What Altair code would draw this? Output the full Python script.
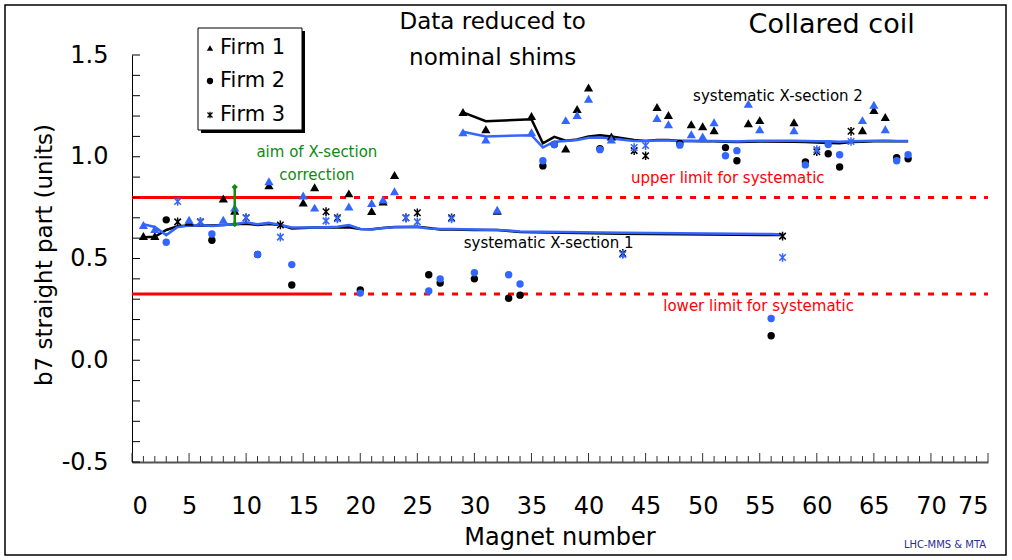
import altair as alt
import pandas as pd

# ---- measurements per magnet -------------------------------------------
magnet = list(range(1, 69))
firm = [1, 1, 2, 3, 1, 3, 2, 1, 1, 3, 2, 1, 3, 2, 1, 1, 3, 3, 1, 2,
        1, 1, 1, 3, 3, 2, 2, 3, 1, 2, 1, 1, 2, 2, 1, 2, 2, 1, 1, 1,
        2, 1, 3, 3, 3, 1, 1, 2, 1, 1, 1, 2, 2, 1, 1, 2, 3, 1, 2, 3,
        2, 2, 3, 1, 1, 1, 2, 2]
# b7 as measured (black)
b7_measured = [0.61, 0.61, 0.69, 0.68, 0.68, 0.68, 0.59, 0.795, 0.735, 0.70,
               0.52, 0.86, 0.665, 0.37, 0.775, 0.85, 0.73, 0.70, 0.82, 0.345,
               0.733, 0.78, 0.91, 0.70, 0.725, 0.42, 0.38, 0.70, 1.22, 0.40,
               1.135, 0.735, 0.305, 0.32, 1.20, 0.955, 1.06, 1.04, 1.235, 1.34,
               1.04, 1.10, 0.525, 1.03, 1.005, 1.245, 1.205, 1.065, 1.16, 1.15,
               1.13, 1.045, 0.98, 1.165, 1.18, 0.12, 0.61, 1.17, 0.975, 1.025,
               1.015, 0.95, 1.125, 1.13, 1.23, 1.195, 0.995, 0.99]
# b7 reduced to nominal shims (blue)
b7_nominal = [0.665, 0.645, 0.58, 0.78, 0.69, 0.68, 0.62, 0.69, 0.75, 0.70,
              0.52, 0.88, 0.605, 0.47, 0.81, 0.75, 0.685, 0.695, 0.755, 0.33,
              0.773, 0.79, 0.83, 0.70, 0.68, 0.34, 0.40, 0.695, 1.12, 0.43,
              1.085, 0.74, 0.42, 0.375, 1.12, 0.98, 1.06, 1.18, 1.205, 1.285,
              1.035, 1.085, 0.52, 1.045, 1.055, 1.19, 1.16, 1.057, 1.11, 1.10,
              1.17, 1.005, 1.03, 1.26, 1.135, 0.205, 0.505, 1.13, 0.96, 1.035,
              1.06, 1.01, 1.075, 1.18, 1.255, 1.135, 0.98, 1.01]

# ---- running systematic per cross-section ------------------------------
sec1_x = list(range(1, 29)) + [30, 32, 33, 34, 43, 56, 57]
sec1_measured = [0.605, 0.607, 0.640, 0.658, 0.662, 0.664, 0.662, 0.665, 0.668, 0.671,
                 0.665, 0.670, 0.665, 0.648, 0.650, 0.652, 0.652, 0.652, 0.654, 0.645,
                 0.644, 0.650, 0.655, 0.655, 0.656, 0.650, 0.642, 0.642, 0.640, 0.640,
                 0.635, 0.630, 0.622, 0.615, 0.615]
sec1_nominal = [0.668, 0.655, 0.615, 0.655, 0.662, 0.664, 0.660, 0.665, 0.668, 0.678,
                0.668, 0.675, 0.665, 0.652, 0.652, 0.652, 0.654, 0.656, 0.664, 0.645,
                0.642, 0.650, 0.654, 0.655, 0.655, 0.648, 0.645, 0.645, 0.642, 0.640,
                0.637, 0.633, 0.626, 0.620, 0.618]
sec2_x = [29, 31] + list(range(35, 43)) + list(range(44, 56)) + list(range(58, 69))
sec2_measured = [1.218, 1.175, 1.184, 1.066, 1.098, 1.079, 1.085, 1.100, 1.106, 1.100,
                 1.082, 1.077, 1.082, 1.082, 1.078, 1.078, 1.076, 1.076, 1.074, 1.072,
                 1.074, 1.075, 1.074, 1.072, 1.070, 1.068, 1.066, 1.072, 1.074, 1.076,
                 1.077, 1.076, 1.076]
sec2_nominal = [1.123, 1.100, 1.106, 1.046, 1.074, 1.077, 1.082, 1.093, 1.095, 1.090,
                1.077, 1.077, 1.080, 1.080, 1.078, 1.078, 1.077, 1.078, 1.076, 1.075,
                1.078, 1.079, 1.079, 1.077, 1.076, 1.076, 1.074, 1.076, 1.077, 1.079,
                1.079, 1.078, 1.078]

# ---- limits and aim ----------------------------------------------------
upper_limit = 0.80
lower_limit = 0.325
limit_solid_end = 17
x_max = 75
aim_x = 9
aim_low, aim_high = 0.669, 0.851

x_ticks = list(range(0, 76, 5))
y_ticks = [-0.5, 0.0, 0.5, 1.0, 1.5]

W, H = 856, 407
FONT = "DejaVu Sans"
BLUE = "#3366ff"
GREEN = "#108a10"
RED = "#ff0000"
ASTERISK = "M-0.75,-0.75L0.75,0.75M-0.75,0.75L0.75,-0.75M0,-1L0,1"

xs = alt.Scale(domain=[0, 75], nice=False, zero=False)
ys = alt.Scale(domain=[-0.5, 1.5], nice=False, zero=False)

pts = pd.DataFrame({"magnet": magnet, "firm": firm,
                    "measured": b7_measured, "nominal": b7_nominal})
lines = pd.concat([
    pd.DataFrame({"magnet": sec1_x, "measured": sec1_measured,
                  "nominal": sec1_nominal, "section": "1"}),
    pd.DataFrame({"magnet": sec2_x, "measured": sec2_measured,
                  "nominal": sec2_nominal, "section": "2"}),
])

X = alt.X("magnet:Q", scale=xs,
          axis=alt.Axis(values=x_ticks, title=None, ticks=False,
                        grid=False, domainColor="#555555", domainWidth=2,
                        labelFont=FONT, labelFontSize=24, labelColor="black",
                        labelPadding=32))

def yenc(field):
    return alt.Y(f"{field}:Q", scale=ys,
                 axis=alt.Axis(values=y_ticks, title=None, ticks=False,
                               labelExpr="datum.value < 0 ? '-' + format(-datum.value, '.1f') : format(datum.value, '.1f')",
                               grid=False, domainColor="black", domainWidth=1,
                               labelFont=FONT, labelFontSize=24, labelColor="black",
                               labelPadding=24))

base_line = alt.Chart(lines)
line_measured = base_line.mark_line(color="black", strokeWidth=2.5).encode(
    x=X, y=yenc("measured"), detail="section:N")
line_nominal = base_line.mark_line(color=BLUE, strokeWidth=2.5).encode(
    x=X, y=yenc("nominal"), detail="section:N")

shape_scale = alt.Scale(domain=[1, 2], range=["triangle-up", "circle"])
size_scale = alt.Scale(domain=[1, 2], range=[85, 55])
filled = alt.Chart(pts).transform_filter("datum.firm < 3")
star = alt.Chart(pts).transform_filter("datum.firm == 3")

def filled_points(field, colour):
    return filled.mark_point(filled=True, opacity=1, color=colour).encode(
        x=X, y=yenc(field),
        shape=alt.Shape("firm:O", scale=shape_scale, legend=None),
        size=alt.Size("firm:O", scale=size_scale, legend=None))

def star_points(field, colour):
    return star.mark_point(shape=ASTERISK, size=75, strokeWidth=1.5,
                           color=colour, opacity=1).encode(x=X, y=yenc(field))

pts_measured = filled_points("measured", "black")
star_measured = star_points("measured", "black")
pts_nominal = filled_points("nominal", BLUE)
star_nominal = star_points("nominal", BLUE)

# limit lines: solid over the first magnets, dotted beyond
limits = pd.DataFrame({
    "x": [0, limit_solid_end, 0, limit_solid_end],
    "x2": [limit_solid_end, x_max, limit_solid_end, x_max],
    "y": [upper_limit, upper_limit, lower_limit, lower_limit],
    "style": ["solid", "dotted", "solid", "dotted"],
})
lim_solid = alt.Chart(limits).transform_filter("datum.style == 'solid'").mark_rule(
    color=RED, strokeWidth=3).encode(x=alt.X("x:Q", scale=xs), x2="x2:Q",
                                     y=alt.Y("y:Q", scale=ys))
lim_dot = alt.Chart(limits).transform_filter("datum.style == 'dotted'").mark_rule(
    color=RED, strokeWidth=3, strokeDash=[6, 8]).encode(
    x=alt.X("x:Q", scale=xs), x2="x2:Q", y=alt.Y("y:Q", scale=ys))

aim = pd.DataFrame({"x": [aim_x], "lo": [aim_low], "hi": [aim_high]})
aim_bar = alt.Chart(aim).mark_rule(color=GREEN, strokeWidth=2.5).encode(
    x=alt.X("x:Q", scale=xs), y=alt.Y("lo:Q", scale=ys), y2="hi:Q")
aim_ends = alt.Chart(pd.DataFrame({"x": [aim_x, aim_x], "y": [aim_low, aim_high]})).mark_point(
    shape="diamond", filled=True, size=40, color=GREEN, opacity=1).encode(
    x=alt.X("x:Q", scale=xs), y=alt.Y("y:Q", scale=ys))

# ---- annotations -------------------------------------------------------
ann_text = ["Data reduced to", "nominal shims", "Collared coil",
            "aim of X-section", "correction",
            "upper limit for systematic", "lower limit for systematic",
            "systematic X-section 1", "systematic X-section 2"]
ann_x = [31.6, 31.6, 61.3, 16.2, 16.2, 52.2, 54.9, 36.5, 56.6]
ann_y = [1.662, 1.485, 1.648, 1.023, 0.910, 0.895, 0.265, 0.575, 1.300]
ann_size = [23, 23, 27, 15, 15, 15, 15, 15, 15]
ann_color = ["black", "black", "black", GREEN, GREEN, RED, RED, "black", "black"]
ann = pd.DataFrame({"t": ann_text, "x": ann_x, "y": ann_y,
                    "s": ann_size, "c": ann_color})
annotations = alt.Chart(ann).mark_text(font=FONT, baseline="middle", align="center").encode(
    x=alt.X("x:Q", scale=xs), y=alt.Y("y:Q", scale=ys), text="t:N",
    size=alt.Size("s:Q", scale=None, legend=None),
    color=alt.Color("c:N", scale=None, legend=None))

box = pd.DataFrame({"a": [0]})

# axis titles, placed relative to the plot area
x_title = alt.Chart(pd.DataFrame({"t": ["Magnet number"]})).mark_text(
    font=FONT, fontSize=24, color="black", align="center", baseline="middle").encode(
    x=alt.value(W / 2), y=alt.value(538 - 55), text="t:N")
y_title = alt.Chart(pd.DataFrame({"t": ["b7 straight part (units)"]})).mark_text(
    font=FONT, fontSize=23, color="black", align="center", baseline="middle",
    angle=270).encode(x=alt.value(45 - 132), y=alt.value(255 - 55), text="t:N")

credit = alt.Chart(pd.DataFrame({"t": ["LHC-MMS & MTA"]})).mark_text(
    font=FONT, fontSize=10, color="#2b2b9a", align="center", baseline="middle").encode(
    x=alt.value(945 - 132), y=alt.value(545 - 55), text="t:N")

# ---- inward axis ticks ---------------------------------------------------
xt = pd.DataFrame({"t": list(range(0, 76))})
xt["major"] = xt["t"] % 5 == 0
xtick_minor = alt.Chart(xt).transform_filter("!datum.major").mark_rule(
    color="#333333", strokeWidth=1).encode(
    x=alt.X("t:Q", scale=xs), y=alt.value(H), y2=alt.value(H - 6))
xtick_major = alt.Chart(xt).transform_filter("datum.major").mark_rule(
    color="#333333", strokeWidth=1).encode(
    x=alt.X("t:Q", scale=xs), y=alt.value(H), y2=alt.value(H - 9))
yt = pd.DataFrame({"t": [round(-0.5 + 0.1 * i, 1) for i in range(21)]})
ytick = alt.Chart(yt).mark_rule(color="black", strokeWidth=1).encode(
    y=alt.Y("t:Q", scale=ys), x=alt.value(0), x2=alt.value(8))

# ---- legend box ------------------------------------------------------------
lx0, lx1, ly0, ly1 = 198 - 132, 302 - 132, 28 - 55, 130 - 55
leg_shadow = alt.Chart(box).mark_rect(color="black").encode(
    x=alt.value(lx0 + 3), x2=alt.value(lx1 + 3), y=alt.value(ly0 + 3), y2=alt.value(ly1 + 3))
leg_box = alt.Chart(box).mark_rect(fill="white", stroke="black", strokeWidth=1).encode(
    x=alt.value(lx0), x2=alt.value(lx1), y=alt.value(ly0), y2=alt.value(ly1))
leg_names = ["Firm 1", "Firm 2", "Firm 3"]
leg_rows = [48 - 55, 81 - 55, 115 - 55]
leg_sym = []
for name, yy, shp in zip(leg_names, leg_rows, ["triangle-up", "circle", ASTERISK]):
    filled_sym = shp != ASTERISK
    leg_sym.append(alt.Chart(pd.DataFrame({"n": [name]})).mark_point(
        shape=shp, filled=filled_sym, size=40 if filled_sym else 45,
        strokeWidth=1.2, color="black", opacity=1).encode(
        x=alt.value(210 - 132), y=alt.value(yy)))
leg_text = alt.Chart(pd.DataFrame({"n": leg_names, "yy": leg_rows})).mark_text(
    font=FONT, fontSize=21, align="left", baseline="middle", color="black").encode(
    x=alt.value(220 - 132), y=alt.Y("yy:Q", scale=None), text="n:N")

# ---- outer frame -----------------------------------------------------------
frame = alt.Chart(box).mark_rect(fill=None, stroke="black", strokeWidth=1.5).encode(
    x=alt.value(5 - 132), x2=alt.value(1006 - 132), y=alt.value(5 - 55), y2=alt.value(555 - 55))

chart = alt.layer(
    frame, lim_solid, lim_dot, xtick_minor, xtick_major, ytick,
    line_measured, line_nominal,
    pts_measured, star_measured, pts_nominal, star_nominal,
    aim_bar, aim_ends, annotations, x_title, y_title, credit,
    leg_shadow, leg_box, *leg_sym, leg_text,
).properties(
    width=W, height=H,
    autosize=alt.AutoSizeParams(type="none"),
    padding={"left": 132, "top": 55, "right": 1012 - 132 - W, "bottom": 560 - 55 - H},
    background="white",
).configure_view(stroke=None)

chart.save("out.html", embed_options={"renderer": "svg", "actions": False})
